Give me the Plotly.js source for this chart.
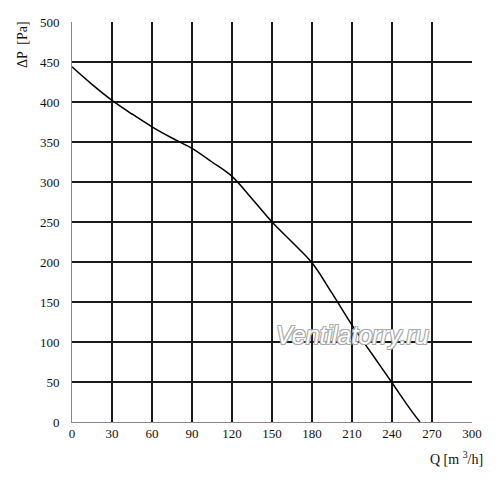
<!DOCTYPE html>
<html><head><meta charset="utf-8">
<script src="https://cdn.plot.ly/plotly-3.0.1.min.js"></script>
<style>html,body{margin:0;padding:0;background:#fff}</style>
</head><body>
<div id="chart" style="width:500px;height:482px"></div>
<script>
const flowQ = [0, 15, 30, 45, 60, 75, 90, 105, 120, 135, 150, 165, 180, 195, 210, 225, 240, 255, 261];
const pressure = [444, 422, 402, 385, 369, 355, 342, 325, 307, 279, 250, 225, 199, 161, 121, 85, 49, 13, 0];
const xTicks = [0, 30, 60, 90, 120, 150, 180, 210, 240, 270, 300];
const yTicks = [0, 50, 100, 150, 200, 250, 300, 350, 400, 450, 500];
const yTitle = '\u0394P  [Pa]';
const xTitle = 'Q [m <sup>3</sup>/h]';
const watermark = 'Ventilatorry.ru';

const serif = 'Liberation Serif, DejaVu Serif, serif';
const trace = {
  x: flowQ, y: pressure, type: 'scatter', mode: 'lines',
  line: {color: '#000', width: 1.5, shape: 'spline', smoothing: 1},
  hoverinfo: 'skip'
};
const layout = {
  width: 500, height: 482,
  margin: {l: 72, r: 28, t: 22, b: 60},
  paper_bgcolor: '#fff', plot_bgcolor: '#fff',
  showlegend: false,
  xaxis: {
    range: [0, 300], tickvals: xTicks, ticktext: xTicks.map(String),
    showgrid: true, gridcolor: '#1a1a1a', gridwidth: 1.5,
    zeroline: false, showline: true, linecolor: '#888', linewidth: 1,
    ticks: '', ticklabelstandoff: -1, tickfont: {family: serif, size: 13, color: '#111'},
    fixedrange: true
  },
  yaxis: {
    range: [0, 500], tickvals: yTicks, ticktext: yTicks.map(String),
    showgrid: true, gridcolor: '#1a1a1a', gridwidth: 1.5,
    zeroline: false, showline: true, linecolor: '#888', linewidth: 1,
    ticks: '', ticklabelstandoff: 9, tickfont: {family: serif, size: 13, color: '#111'},
    fixedrange: true
  },
  annotations: [
    {text: yTitle, xref: 'paper', yref: 'paper', x: -0.125, y: 0.9425,
     xanchor: 'center', yanchor: 'middle', textangle: -90, showarrow: false,
     font: {family: serif, size: 14, color: '#111'}},
    {text: xTitle, xref: 'paper', yref: 'paper', x: 1.0325, y: -0.09,
     xanchor: 'right', yanchor: 'middle', showarrow: false,
     font: {family: serif, size: 14, color: '#111'}},
    {text: watermark, xref: 'x', yref: 'y', x: 210, y: 109,
     xanchor: 'center', yanchor: 'middle', showarrow: false,
     font: {family: 'Liberation Sans, Arial, sans-serif', size: 25, color: '#ffffff', style: 'italic',
            shadow: '-1px -1px 0 #aaa, 1px -1px 0 #aaa, -1px 1px 0 #aaa, 1px 1px 0 #aaa'}}
  ]
};
Plotly.newPlot('chart', [trace], layout, {staticPlot: true, displayModeBar: false});
</script>
</body></html>
